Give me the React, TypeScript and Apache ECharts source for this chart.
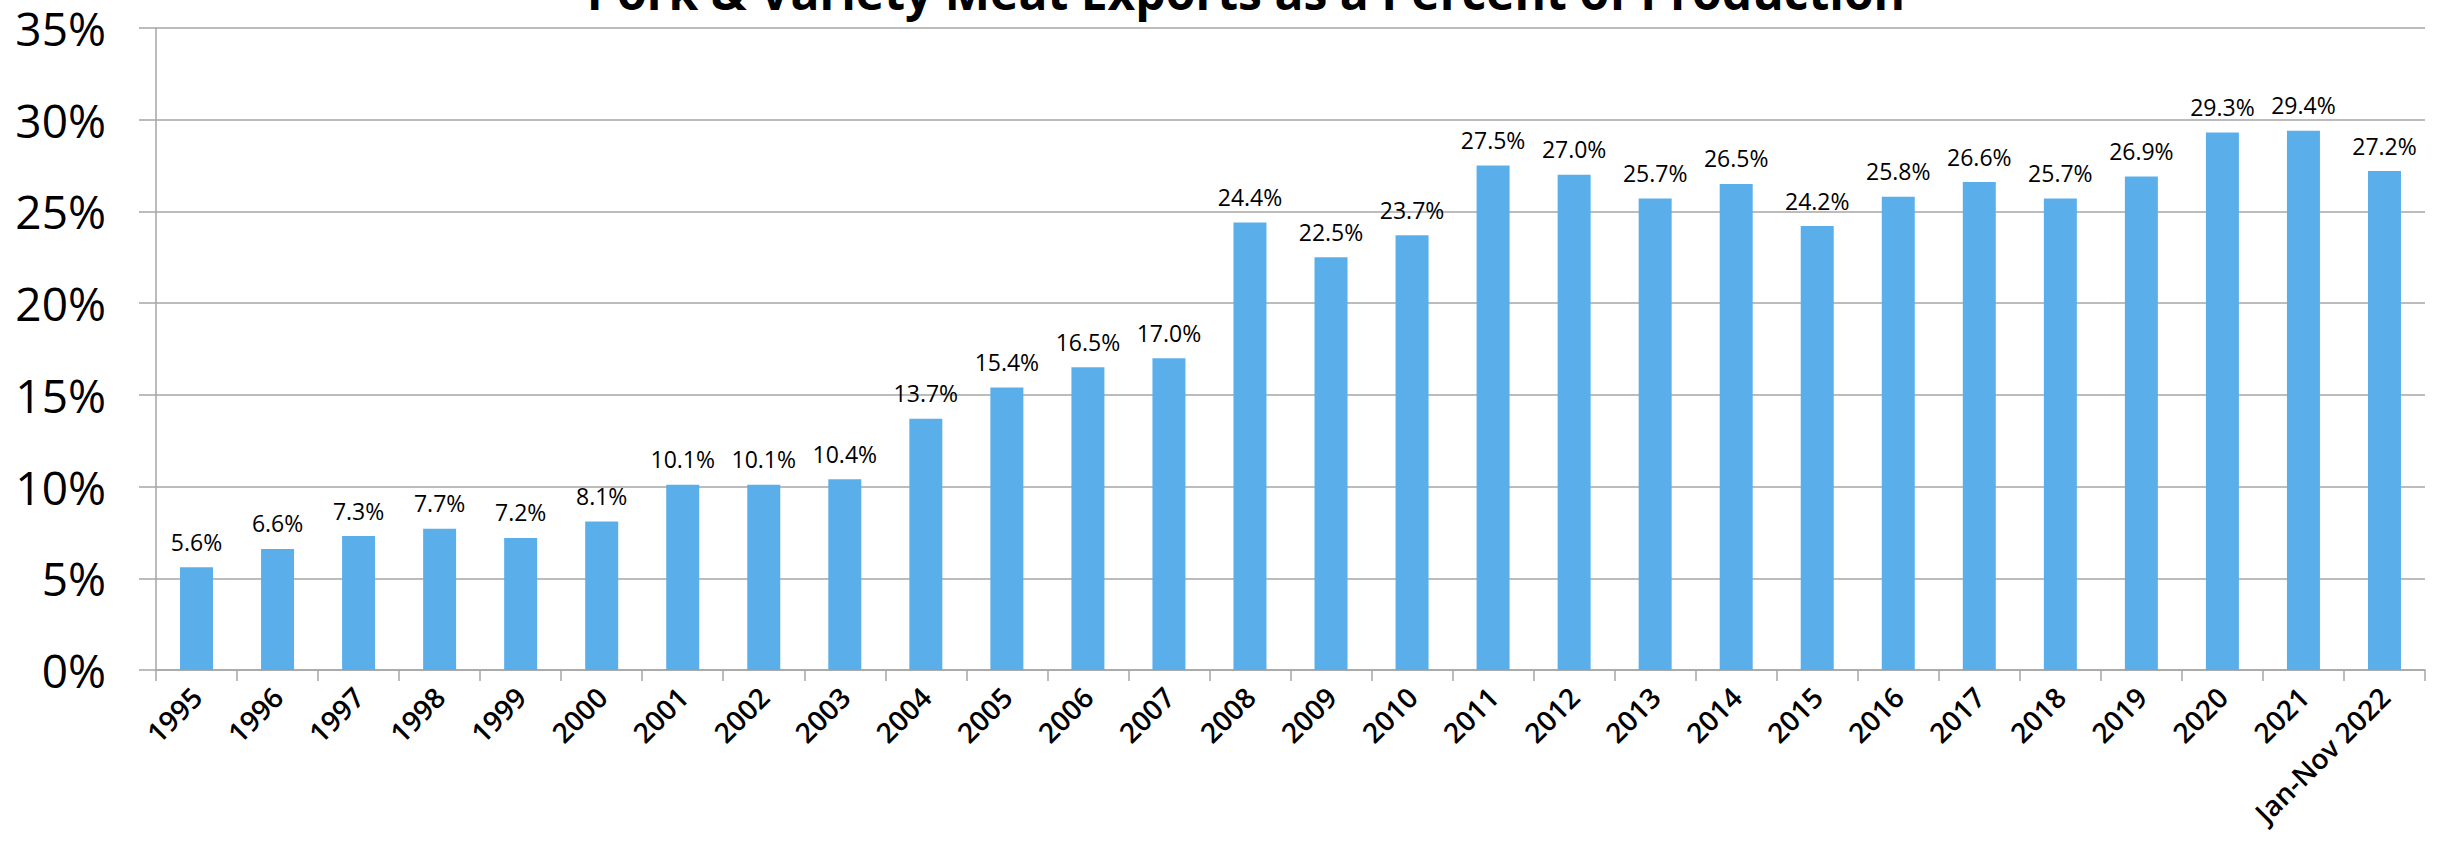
import React, { useEffect, useRef } from "react";
import * as echarts from "echarts";

const categories = [
  "1995", "1996", "1997", "1998", "1999", "2000", "2001", "2002", "2003", "2004",
  "2005", "2006", "2007", "2008", "2009", "2010", "2011", "2012", "2013", "2014",
  "2015", "2016", "2017", "2018", "2019", "2020", "2021", "Jan-Nov 2022",
];
const values = [
  5.6, 6.6, 7.3, 7.7, 7.2, 8.1, 10.1, 10.1, 10.4, 13.7,
  15.4, 16.5, 17.0, 24.4, 22.5, 23.7, 27.5, 27.0, 25.7, 26.5,
  24.2, 25.8, 26.6, 25.7, 26.9, 29.3, 29.4, 27.2,
];
const titleText = "Pork & Variety Meat Exports as a Percent of Production";
const yMin = 0;
const yMax = 35;
const yStep = 5;

const FONT = "'Open Sans', 'Noto Sans', sans-serif";
const GRID_COLOR = "#A6A6A6";
const BAR_COLOR = "#5AAFEB";

export default function App() {
  const ref = useRef<HTMLDivElement>(null);
  useEffect(() => {
    document.body.style.margin = "0";
    if (!ref.current) return;
    const chart = echarts.init(ref.current, undefined, { renderer: "svg" });
    chart.setOption({
      animation: false,
      backgroundColor: "#ffffff",
      textStyle: { fontFamily: FONT },
      graphic: [
        {
          type: "text",
          x: 1246,
          y: 15,
          style: {
            text: titleText,
            fill: "#000",
            font: `bold 48px ${FONT}`,
            align: "center",
            verticalAlign: "bottom",
          },
        },
      ],
      grid: { left: 156, right: 21, top: 28, bottom: 183, containLabel: false },
      xAxis: {
        type: "category",
        data: categories,
        axisLine: { show: true, lineStyle: { color: GRID_COLOR, width: 1.5 } },
        axisTick: { show: true, alignWithLabel: false, length: 11, lineStyle: { color: GRID_COLOR, width: 1.5 } },
        axisLabel: {
          interval: 0,
          rotate: 45,
          fontSize: 28,
          fontWeight: 600,
          color: "#000",
          fontFamily: FONT,
          margin: 22,
        },
      },
      yAxis: {
        type: "value",
        min: yMin,
        max: yMax,
        interval: yStep,
        axisLine: { show: true, lineStyle: { color: GRID_COLOR, width: 1.5 } },
        axisTick: { show: true, inside: false, length: 17, lineStyle: { color: GRID_COLOR, width: 1.5 } },
        splitLine: { show: true, lineStyle: { color: GRID_COLOR, width: 1.5 } },
        axisLabel: {
          formatter: "{value}%",
          fontSize: 46,
          fontWeight: 500,
          color: "#000",
          fontFamily: FONT,
          margin: 50,
        },
      },
      series: [
        {
          type: "bar",
          data: values,
          barWidth: 33,
          itemStyle: { color: BAR_COLOR },
          label: {
            show: true,
            position: "top",
            distance: 14,
            fontSize: 23,
            color: "#000",
            fontFamily: FONT,
            formatter: (p: any) => `${Number(p.value).toFixed(1)}%`,
          },
        },
      ],
    });
    return () => chart.dispose();
  }, []);
  return <div ref={ref} style={{ width: 2446, height: 853 }} />;
}
